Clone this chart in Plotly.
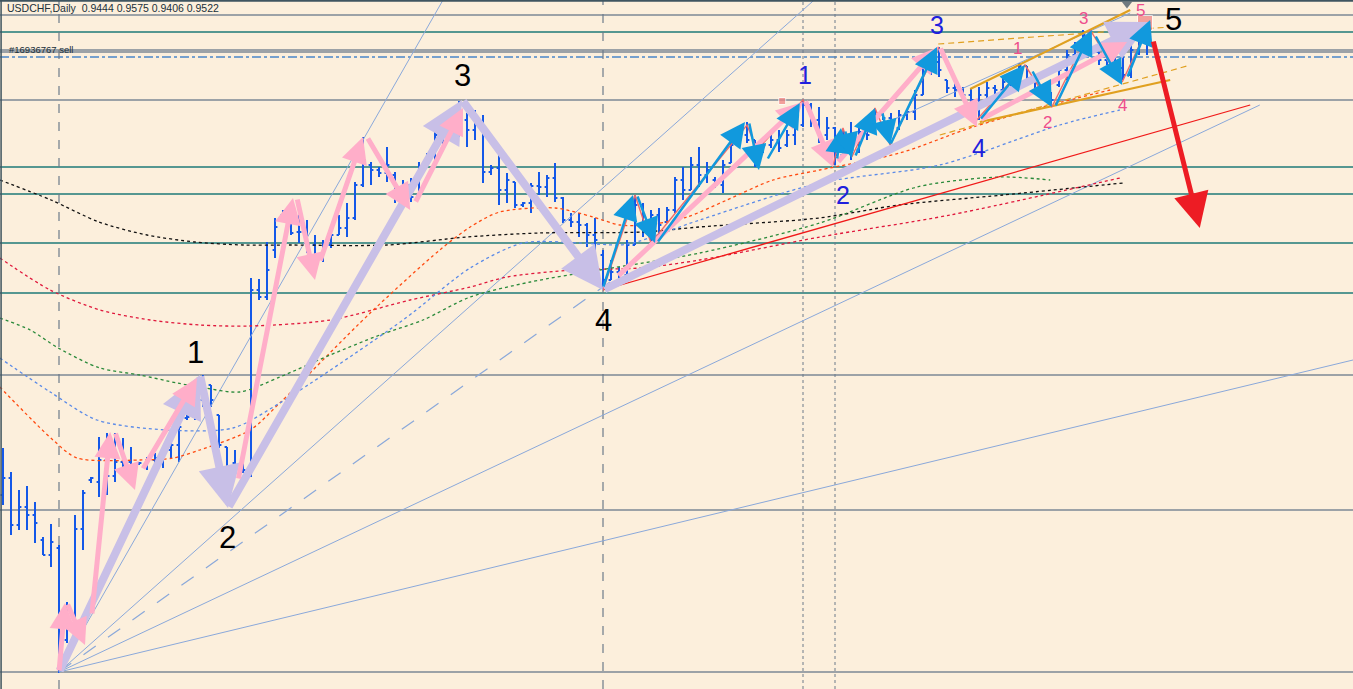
import plotly.graph_objects as go

# ---------------- DATA ----------------
bar_index = list(range(144))
opens = [0.9105,0.9122,0.9075,0.9093,0.9085,0.9060,0.9045,0.9052,0.8960,0.8967,
         0.9071,0.9120,0.9118,0.9140,0.9124,0.9138,0.9138,0.9136,0.9137,0.9140,
         0.9142,0.9150,0.9155,0.9182,0.9183,0.9200,0.9215,0.9185,0.9153,0.9137,
         0.9135,0.9130,0.9310,0.9303,0.9350,0.9385,0.9388,0.9368,0.9368,0.9355,
         0.9342,0.9355,0.9365,0.9372,0.9382,0.9415,0.9435,0.9430,0.9427,0.9425,
         0.9404,0.9415,0.9405,0.9440,0.9445,0.9465,0.9470,0.9473,0.9480,0.9470,
         0.9475,0.9428,0.9432,0.9410,0.9418,0.9395,0.9397,0.9414,0.9413,0.9422,
         0.9402,0.9380,0.9378,0.9375,0.9365,0.9345,0.9320,0.9328,0.9325,0.9355,
         0.9395,0.9370,0.9385,0.9378,0.9390,0.9420,0.9410,0.9435,0.9425,0.9420,
         0.9415,0.9437,0.9455,0.9465,0.9460,0.9450,0.9455,0.9460,0.9455,0.9465,
         0.9475,0.9495,0.9480,0.9465,0.9472,0.9445,0.9460,0.9450,0.9468,0.9475,
         0.9485,0.9482,0.9472,0.9485,0.9488,0.9505,0.9528,0.9538,0.9520,0.9512,
         0.9510,0.9505,0.9500,0.9505,0.9512,0.9510,0.9518,0.9522,0.9534,0.9522,
         0.9512,0.9505,0.9515,0.9530,0.9545,0.9554,0.9562,0.9548,0.9540,0.9542,
         0.9532,0.9525,0.9550,0.9565]
highs = [0.9152,0.9128,0.9110,0.9114,0.9098,0.9063,0.9076,0.9055,0.8998,0.9085,
         0.9110,0.9123,0.9163,0.9167,0.9167,0.9162,0.9153,0.9138,0.9143,0.9147,
         0.9153,0.9163,0.9203,0.9185,0.9203,0.9225,0.9215,0.9185,0.9153,0.9150,
         0.9153,0.9322,0.9321,0.9358,0.9382,0.9390,0.9390,0.9385,0.9380,0.9365,
         0.9360,0.9375,0.9385,0.9397,0.9418,0.9463,0.9438,0.9433,0.9453,0.9428,
         0.9420,0.9422,0.9438,0.9447,0.9470,0.9483,0.9477,0.9499,0.9487,0.9490,
         0.9485,0.9435,0.9445,0.9427,0.9418,0.9398,0.9417,0.9428,0.9425,0.9437,
         0.9403,0.9387,0.9387,0.9377,0.9382,0.9350,0.9340,0.9333,0.9360,0.9405,
         0.9397,0.9390,0.9392,0.9393,0.9423,0.9433,0.9443,0.9453,0.9438,0.9423,
         0.9440,0.9462,0.9470,0.9478,0.9460,0.9460,0.9467,0.9470,0.9470,0.9480,
         0.9500,0.9497,0.9493,0.9483,0.9473,0.9470,0.9478,0.9473,0.9473,0.9490,
         0.9490,0.9487,0.9490,0.9490,0.9510,0.9532,0.9543,0.9553,0.9520,0.9520,
         0.9513,0.9512,0.9513,0.9518,0.9515,0.9522,0.9527,0.9537,0.9534,0.9522,
         0.9515,0.9508,0.9533,0.9550,0.9558,0.9570,0.9562,0.9548,0.9547,0.9550,
         0.9550,0.9555,0.9570,0.9578]
lows = [0.9095,0.9065,0.9070,0.9070,0.9057,0.9045,0.9033,0.8927,0.8957,0.8960,
        0.9050,0.9117,0.9103,0.9105,0.9118,0.9123,0.9128,0.9135,0.9130,0.9127,
        0.9132,0.9142,0.9138,0.9180,0.9180,0.9193,0.9193,0.9152,0.9097,0.9125,
        0.9127,0.9123,0.9300,0.9300,0.9342,0.9383,0.9365,0.9357,0.9347,0.9338,
        0.9338,0.9352,0.9365,0.9363,0.9380,0.9413,0.9415,0.9423,0.9418,0.9397,
        0.9397,0.9398,0.9403,0.9438,0.9437,0.9453,0.9465,0.9463,0.9453,0.9460,
        0.9417,0.9425,0.9395,0.9397,0.9392,0.9393,0.9387,0.9405,0.9403,0.9398,
        0.9377,0.9373,0.9363,0.9353,0.9348,0.9310,0.9320,0.9317,0.9320,0.9355,
        0.9363,0.9357,0.9363,0.9378,0.9387,0.9400,0.9410,0.9413,0.9417,0.9412,
        0.9407,0.9437,0.9453,0.9457,0.9433,0.9447,0.9452,0.9448,0.9453,0.9455,
        0.9473,0.9473,0.9457,0.9460,0.9435,0.9443,0.9440,0.9447,0.9460,0.9473,
        0.9480,0.9467,0.9470,0.9480,0.9480,0.9505,0.9525,0.9523,0.9507,0.9503,
        0.9500,0.9497,0.9480,0.9500,0.9505,0.9503,0.9507,0.9520,0.9517,0.9508,
        0.9503,0.9495,0.9513,0.9520,0.9538,0.9553,0.9547,0.9535,0.9535,0.9528,
        0.9520,0.9522,0.9545,0.9545]
closes = [0.9122,0.9075,0.9093,0.9085,0.9077,0.9045,0.9058,0.8960,0.8980,0.9071,
          0.9107,0.9122,0.9140,0.9124,0.9138,0.9138,0.9134,0.9137,0.9140,0.9142,
          0.9150,0.9155,0.9173,0.9183,0.9200,0.9215,0.9200,0.9155,0.9133,0.9135,
          0.9130,0.9310,0.9303,0.9330,0.9373,0.9388,0.9367,0.9368,0.9355,0.9342,
          0.9355,0.9365,0.9372,0.9382,0.9415,0.9440,0.9430,0.9427,0.9435,0.9404,
          0.9415,0.9403,0.9425,0.9445,0.9465,0.9470,0.9473,0.9480,0.9470,0.9475,
          0.9428,0.9432,0.9410,0.9420,0.9395,0.9397,0.9414,0.9413,0.9422,0.9402,
          0.9380,0.9378,0.9375,0.9365,0.9360,0.9320,0.9328,0.9325,0.9355,0.9395,
          0.9370,0.9385,0.9375,0.9390,0.9420,0.9410,0.9435,0.9425,0.9430,0.9415,
          0.9435,0.9455,0.9465,0.9460,0.9440,0.9455,0.9460,0.9452,0.9465,0.9475,
          0.9495,0.9480,0.9465,0.9472,0.9445,0.9460,0.9450,0.9468,0.9465,0.9485,
          0.9482,0.9472,0.9485,0.9488,0.9505,0.9528,0.9538,0.9530,0.9512,0.9510,
          0.9505,0.9500,0.9505,0.9512,0.9510,0.9518,0.9522,0.9534,0.9522,0.9512,
          0.9505,0.9500,0.9530,0.9545,0.9554,0.9565,0.9550,0.9540,0.9542,0.9532,
          0.9525,0.9550,0.9565,0.9570]

# horizontal levels
grey_levels = [0.9585, 0.9550, 0.9548, 0.9500, 0.9225, 0.9090, 0.8928]
teal_levels = [0.9568, 0.9433, 0.9406, 0.9357, 0.9307]
dashdot_level = 0.9543
# vertical separators (bar index)
vline_long = [7, 75]
vline_dot = [100, 104]

# moving averages (bar index, price)
ma_black_x = [-0.4, 6, 12, 18, 24, 30, 36, 48, 58, 67, 80, 87, 102, 112, 125, 140]
ma_black_y = [0.9420, 0.9400, 0.9378, 0.9365, 0.9358, 0.9355, 0.9355, 0.9355, 0.9363,
              0.9367, 0.9368, 0.9373, 0.9382, 0.9395, 0.9405, 0.9417]
ma_crimson_x = [-0.4, 5.9, 12.1, 18.4, 24.6, 30.9, 40.9, 50.9, 58.4, 63, 71.25, 79.6, 87.1, 102.1, 118.4, 139.6]
ma_crimson_y = [0.9342, 0.9310, 0.9290, 0.9280, 0.9275, 0.9274, 0.9280, 0.9300, 0.9313,
                0.9323, 0.9330, 0.9332, 0.9340, 0.9363, 0.9385, 0.9422]
ma_orange_x = [-0.4, 6.25, 9.25, 17.1, 21.25, 24.6, 30.9, 34.6, 45.9, 54.6, 58.4, 62.1, 69,
               73.75, 77.1, 80.5, 85.5, 90.5, 96.25, 102.1, 112.1, 121.25, 130.9, 138.4]
ma_orange_y = [0.9213, 0.9160, 0.9142, 0.9140, 0.9142, 0.9150, 0.9170, 0.9197, 0.9287,
               0.9350, 0.9373, 0.9388, 0.9392, 0.9383, 0.9375, 0.9375, 0.9383, 0.9400,
               0.9420, 0.9430, 0.9447, 0.9473, 0.9495, 0.9510]
ma_green_x = [-0.4, 3.4, 6.9, 12.1, 17.1, 21.75, 24.6, 29.6, 34.6, 40.9, 47.1, 52.5, 58.4,
              65.9, 74.6, 87.1, 102.1, 114.25, 124.6, 130.9]
ma_green_y = [0.9282, 0.9270, 0.9252, 0.9232, 0.9225, 0.9217, 0.9213, 0.9208, 0.9223,
              0.9245, 0.9265, 0.9280, 0.9303, 0.9318, 0.9330, 0.9347, 0.9377, 0.9413,
              0.9423, 0.9420]
ma_blue_x = [-0.4, 5.9, 11.75, 20.5, 28.75, 34.6, 50, 58.4, 65, 72.1, 76.75, 78.75, 87.1,
             102.1, 117.1, 132.1, 139.6]
ma_blue_y = [0.9242, 0.9208, 0.9180, 0.9170, 0.9172, 0.9197, 0.9280, 0.9332, 0.9357,
             0.9357, 0.9355, 0.9357, 0.9380, 0.9417, 0.9435, 0.9475, 0.9490]

# Gann-like fan from the wave start
fan_origin = (7, 0.8928)
fan_ends = [(55, 0.9600, "solid"), (101.4, 0.9600, "solid"), (77.1, 0.9325, "longdash"),
            (157.1, 0.9495, "solid"), (168.75, 0.9240, "solid")]
thin_channel = [(108.4, 0.9470), (140.9, 0.9587)]
red_trend = [(75, 0.9310), (155.9, 0.9495)]
gold_solid = [((120.9, 0.9511), (140.9, 0.9590)), ((122.1, 0.9478), (145.9, 0.9520))]
gold_dash = [((116.9, 0.9556), (145.9, 0.9573)), ((117.1, 0.9465), (148.0, 0.9534))]

# wave pivots (major count)
major_waves = [(7, 0.8928), (24.625, 0.9225), (28.125, 0.9092), (57.375, 0.9500),
               (75, 0.9310), (143.375, 0.9578)]
major_labels = [("1", 24, 0.9248), ("2", 28.1, 0.9063), ("3", 57.4, 0.9525),
                ("4", 75, 0.9280), ("5", 146.3, 0.9600)]
pink_arrows = [((7, 0.8928), (7.75, 0.8997)), ((8, 0.8997), (10.25, 0.8955)),
               ((11.1, 0.8985), (13.4, 0.9168)), ((14, 0.9168), (16.5, 0.9110)),
               ((17.4, 0.9130), (24.25, 0.9222)), ((29.4, 0.9120), (36.25, 0.9402)),
               ((36.75, 0.9402), (39, 0.9320)), ((39.6, 0.9338), (45, 0.9463)),
               ((45.5, 0.9463), (50.9, 0.9390)), ((51.5, 0.9397), (57.5, 0.9492)),
               ((76.75, 0.9323), (100, 0.9498)), ((100.25, 0.9500), (103.75, 0.9433)),
               ((104.25, 0.9437), (116.9, 0.9553)), ((117.1, 0.9553), (121.75, 0.9473)),
               ((122.1, 0.9480), (140.5, 0.9558))]
blue_arrows = [((75, 0.9312), (78.75, 0.9405)), ((79.25, 0.9405), (81.5, 0.9357)),
               ((81.75, 0.9357), (92.75, 0.9478)), ((93.25, 0.9478), (94.5, 0.9430)),
               ((95.5, 0.9440), (99.6, 0.9497)), ((104.25, 0.9440), (104.75, 0.9472)),
               ((105.25, 0.9470), (106.1, 0.9442)), ((106.5, 0.9443), (109, 0.9492)),
               ((109.9, 0.9488), (110.9, 0.9455)), ((110.9, 0.9455), (116.75, 0.9553)),
               ((122.1, 0.9480), (127.75, 0.9535)), ((128.6, 0.9530), (131.1, 0.9493)),
               ((131.5, 0.9493), (136.1, 0.9570)), ((136.5, 0.9565), (139.9, 0.9515)),
               ((140.5, 0.9522), (143.4, 0.9580))]
zigzag_x = [75, 79, 81, 93, 94.25, 100, 103.75, 105, 106.1, 109, 110.9, 116.9, 121.5,
            127.75, 131.1, 135.9, 139.9, 143.4]
zigzag_y = [0.9310, 0.9405, 0.9357, 0.9475, 0.9450, 0.9500, 0.9435, 0.9472, 0.9443,
            0.9492, 0.9455, 0.9553, 0.9478, 0.9535, 0.9493, 0.9570, 0.9518, 0.9578]
sell_arrow = ((143.75, 0.9560), (149.6, 0.9372))
blue_labels = [("1", 100.2, 0.9525), ("2", 105, 0.9405), ("3", 116.8, 0.9575), ("4", 122, 0.9452)]
pink_labels = [("1", 126.8, 0.9552), ("2", 130.6, 0.9478), ("3", 135, 0.9582),
               ("4", 139.9, 0.9495), ("5", 142.2, 0.9590)]
header = "USDCHF,Daily  0.9444 0.9575 0.9406 0.9522"
order_label = "#16936767 sell"

# ---------------- FIGURE ----------------
BG = "#FCEFDC"
fig = go.Figure()

shapes = []
for lv in grey_levels:
    shapes.append(dict(type="line", xref="paper", x0=0, x1=1, y0=lv, y1=lv,
                       line=dict(color="#7d8896", width=1.3), layer="below"))
for lv in teal_levels:
    shapes.append(dict(type="line", xref="paper", x0=0, x1=1, y0=lv, y1=lv,
                       line=dict(color="#1f7a78", width=1.3), layer="below"))
shapes.append(dict(type="line", xref="paper", x0=0, x1=1, y0=dashdot_level, y1=dashdot_level,
                   line=dict(color="#4a86c8", width=1.3, dash="dashdot"), layer="below"))
shapes.append(dict(type="line", xref="paper", yref="paper", x0=0, x1=1, y0=0.999, y1=0.999,
                   line=dict(color="#3f5560", width=2)))
shapes.append(dict(type="line", xref="paper", yref="paper", x0=0.0008, x1=0.0008, y0=0, y1=1,
                   line=dict(color="#3f5560", width=1.5)))
for vx in vline_long:
    shapes.append(dict(type="line", yref="paper", x0=vx, x1=vx, y0=0, y1=1,
                       line=dict(color="#6d7b8a", width=1.2, dash="dash"), layer="below"))
for vx in vline_dot:
    shapes.append(dict(type="line", yref="paper", x0=vx, x1=vx, y0=0, y1=1,
                       line=dict(color="#6d7b8a", width=1, dash="3px,3px"), layer="below"))

# fan lines
for ex, ey, ds in fan_ends:
    fig.add_trace(go.Scatter(x=[fan_origin[0], ex], y=[fan_origin[1], ey], mode="lines",
                             line=dict(color="#8aa8da", width=1 if ds == "solid" else 1.2, dash=ds),
                             hoverinfo="skip"))
fig.add_trace(go.Scatter(x=[p[0] for p in thin_channel], y=[p[1] for p in thin_channel],
                         mode="lines", line=dict(color="#8aa8da", width=1), hoverinfo="skip"))

# moving averages
for xs, ys, col in [(ma_black_x, ma_black_y, "#111111"), (ma_crimson_x, ma_crimson_y, "#e0183c"),
                    (ma_orange_x, ma_orange_y, "#ff4a10"), (ma_green_x, ma_green_y, "#2a8a3a"),
                    (ma_blue_x, ma_blue_y, "#5a8ae8")]:
    fig.add_trace(go.Scatter(x=xs, y=ys, mode="lines", line=dict(color=col, width=1.3,
                             dash="3px,3px", shape="spline", smoothing=0.8), hoverinfo="skip"))

# red trend
fig.add_trace(go.Scatter(x=[p[0] for p in red_trend], y=[p[1] for p in red_trend], mode="lines",
                         line=dict(color="#f01818", width=1.3), hoverinfo="skip"))

# OHLC bars
fig.add_trace(go.Ohlc(x=bar_index, open=opens, high=highs, low=lows, close=closes,
                      increasing=dict(line=dict(color="#1458e8", width=2)),
                      decreasing=dict(line=dict(color="#1458e8", width=2)),
                      tickwidth=0.3, hoverinfo="skip"))

# gold channel
for a, b in gold_solid:
    fig.add_trace(go.Scatter(x=[a[0], b[0]], y=[a[1], b[1]], mode="lines",
                             line=dict(color="#e0a020", width=2.2), hoverinfo="skip"))
for a, b in gold_dash:
    fig.add_trace(go.Scatter(x=[a[0], b[0]], y=[a[1], b[1]], mode="lines",
                             line=dict(color="#e0a020", width=1.2, dash="6px,4px"), hoverinfo="skip"))

# zigzag
fig.add_trace(go.Scatter(x=zigzag_x, y=zigzag_y, mode="lines",
                         line=dict(color="#f06a6a", width=1.4), hoverinfo="skip"))

# salmon markers
fig.add_trace(go.Scatter(x=[97.4, 142.75], y=[0.9499, 0.9577], mode="markers",
                         marker=dict(symbol="square", color="#f08080", size=[7, 15]),
                         hoverinfo="skip"))
fig.add_trace(go.Scatter(x=[140.5], y=[0.9596], mode="markers",
                         marker=dict(symbol="triangle-down", color="#707a80", size=9),
                         hoverinfo="skip"))

annotations = []


def arrow(tail, head, color, width, size):
    annotations.append(dict(x=head[0], y=head[1], ax=tail[0], ay=tail[1], xref="x", yref="y",
                            axref="x", ayref="y", text="", showarrow=True, arrowhead=2,
                            arrowsize=size, arrowwidth=width, arrowcolor=color, standoff=0))


for a, b in zip(major_waves[:-1], major_waves[1:]):
    arrow(a, b, "#c8bfe7", 8, 1.05)
for a, b in pink_arrows:
    arrow(a, b, "#ffaec9", 5, 1.05)
for a, b in blue_arrows:
    arrow(a, b, "#1199dd", 2.5, 2.0)
arrow(sell_arrow[0], sell_arrow[1], "#ed1c24", 5, 1.4)

for t, x, y in major_labels:
    is_top = t == "5"
    annotations.append(dict(x=x, y=y, text=t, showarrow=False, xref="x", yref="y",
                            yanchor="top" if is_top else "middle",
                            font=dict(family="Liberation Sans, Arial", size=31, color="#000000")))
for t, x, y in blue_labels:
    annotations.append(dict(x=x, y=y, text=t, showarrow=False, xref="x", yref="y",
                            font=dict(family="Liberation Sans, Arial", size=25, color="#2020dd")))
for t, x, y in pink_labels:
    annotations.append(dict(x=x, y=y, text=t, showarrow=False, xref="x", yref="y",
                            font=dict(family="Liberation Sans, Arial", size=17, color="#ee4d8c")))
annotations.append(dict(x=0.004, y=0.9600, yref="y", xref="paper", text=header, showarrow=False,
                        xanchor="left", yanchor="top",
                        font=dict(family="Liberation Sans, Arial", size=10.5, color="#20303a")))
annotations.append(dict(x=0.005, y=0.9551, yref="y", xref="paper", text=order_label, showarrow=False,
                        xanchor="left", yanchor="middle",
                        font=dict(family="Liberation Sans, Arial", size=9.5, color="#20303a")))

fig.update_layout(width=1353, height=689, margin=dict(l=0, r=0, t=0, b=0),
                  paper_bgcolor=BG, plot_bgcolor=BG, showlegend=False,
                  shapes=shapes, annotations=annotations,
                  xaxis=dict(range=[-0.375, 168.75], visible=False, rangeslider=dict(visible=False),
                             fixedrange=True),
                  yaxis=dict(range=[0.8911, 0.9600], visible=False, fixedrange=True))

fig.write_html("out.html", config={"displayModeBar": False},
               post_script="document.body.style.margin='0px';document.body.style.overflow='hidden';"
                           "document.body.style.background='" + BG + "';")
